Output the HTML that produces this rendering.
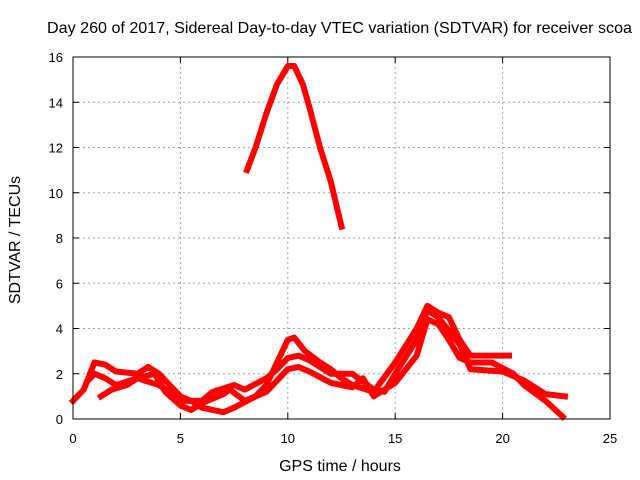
<!DOCTYPE html>
<html><head><meta charset="utf-8"><style>
body{margin:0;background:#fff;}
svg{display:block;font-family:"Liberation Sans",sans-serif;}
</style></head><body>
<svg id="chart" width="640" height="480" viewBox="0 0 640 480">
<text x="47" y="33" font-size="16" textLength="585" lengthAdjust="spacingAndGlyphs">Day 260 of 2017, Sidereal Day-to-day VTEC variation (SDTVAR) for receiver scoa</text>
<text x="340" y="471" font-size="16" text-anchor="middle">GPS time / hours</text>
<text transform="translate(20,240) rotate(-90)" font-size="16" text-anchor="middle">SDTVAR / TECUs</text>
<g id="grid"></g><g id="series"></g><g id="axes"></g>
</svg>
<script>
const xTicks=[0,5,10,15,20,25];
const yTicks=[0,2,4,6,8,10,12,14,16];
const peakX=[8.1,8.5,9,9.5,10,10.3,10.7,11,11.5,12,12.5];
const peakY=[11,12,13.5,14.8,15.6,15.6,14.8,13.8,12,10.5,8.5];
const s1X=[0,0.5,1,1.5,2,3,3.5,4,4.5,5,5.5,6,7,7.5,8.5,9,9.5,10,10.3,10.8,11.5,12,12.5,13,14,15,16,16.5,17,17.5,18,18.5,19.5,20.3];
const s1Y=[0.8,1.3,2.5,2.4,2.1,2.0,2.3,2.0,1.5,1.0,0.8,0.5,0.3,0.5,1.0,1.5,2.5,3.5,3.6,3.0,2.5,2.2,1.8,1.5,1.2,2.5,4.0,5.0,4.7,4.5,3.5,2.8,2.8,2.8];
const s2X=[0.7,1,1.5,2,3,4,4.5,5,6,6.5,7.5,8,9,9.5,10,10.5,11,12,13,14,14.5,15,16,16.5,17,18,18.5,20,21,22,22.9];
const s2Y=[1.7,2,1.8,1.5,1.8,1.5,1.2,0.8,0.8,1.2,1.5,1.3,1.8,2.2,2.7,2.8,2.6,2.0,2.0,1.3,1.2,2.0,3.5,4.8,4.5,3.3,2.2,2.1,1.7,1.1,1.0];
const s3X=[1.3,1.8,2.5,3,3.8,4.3,5,5.5,6,7,7.3,8,8.5,9,10,10.5,11,12,13,13.5,14,15,16,16.5,17,17.5,18,18.5,19.5,20.5,21,22,22.8];
const s3Y=[1.0,1.3,1.5,1.8,2.0,1.2,0.6,0.4,0.7,1.1,1.3,0.8,1.0,1.2,2.2,2.3,2.1,1.6,1.4,1.8,1.0,1.6,2.8,4.4,4.2,3.5,2.7,2.5,2.5,2.0,1.5,0.8,0.1];
const L=73,R=610,T=57,B=419;
const sx=v=>L+(v-0)/25*(R-L), sy=v=>B-(v/16)*(B-T);
const NS="http://www.w3.org/2000/svg";
const grid=document.getElementById('grid'),axes=document.getElementById('axes'),ser=document.getElementById('series');
function mk(t,a,p){const e=document.createElementNS(NS,t);for(const k in a)e.setAttribute(k,a[k]);p.appendChild(e);return e;}
xTicks.forEach(v=>{const x=sx(v);
 if(v>0&&v<25){const g=mk('line',{x1:x,x2:x,y1:T,y2:B,stroke:'#a0a0a0','stroke-dasharray':'2,3'},grid);
 
 }
 const t=mk('text',{x:x,y:B+24,'font-size':13,'text-anchor':'middle'},axes);t.textContent=v;
 
 
 mk('line',{x1:x,x2:x,y1:B,y2:B-6,stroke:'#000'},axes);mk('line',{x1:x,x2:x,y1:T,y2:T+6,stroke:'#000'},axes);});
yTicks.forEach(v=>{const y=sy(v);
 if(v>0&&v<16){const g=mk('line',{x1:L,x2:R,y1:y,y2:y,stroke:'#a0a0a0','stroke-dasharray':'2,3'},grid);
 
 }
 const t=mk('text',{x:L-10,y:y+5,'font-size':13,'text-anchor':'end'},axes);t.textContent=v;
 
 
 mk('line',{x1:L,x2:L+6,y1:y,y2:y,stroke:'#000'},axes);mk('line',{x1:R,x2:R-6,y1:y,y2:y,stroke:'#000'},axes);});
const fr=mk('rect',{x:L,y:T,width:R-L,height:B-T,fill:'none',stroke:'#000'},axes);


[[peakX,peakY,'series-peak'],[s1X,s1Y,'series-1'],[s2X,s2Y,'series-2'],[s3X,s3Y,'series-3']].forEach(([xs,ys,n])=>{
 const p=mk('polyline',{points:xs.map((x,i)=>sx(x)+','+sy(ys[i])).join(' '),fill:'none',stroke:'#ff0000','stroke-width':6,'stroke-linejoin':'round','stroke-linecap':'square'},ser);
 
 
});
</script>
</body></html>
